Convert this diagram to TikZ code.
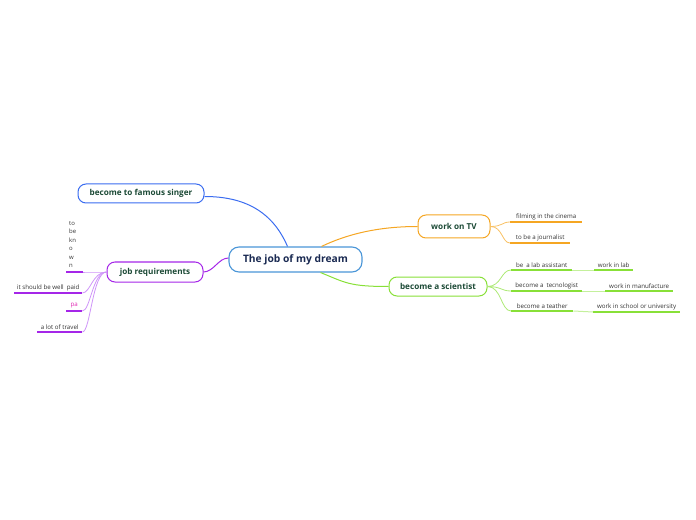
\documentclass[tikz,border=0pt]{standalone}
\usepackage{fontspec}
\setmainfont{Open Sans}
\usetikzlibrary{positioning}
\definecolor{azulC}{HTML}{4A96D8}
\definecolor{azul}{HTML}{3A6CF0}
\definecolor{naranja}{HTML}{F5A623}
\definecolor{verde}{HTML}{88E038}
\definecolor{verdeC}{HTML}{C4F09C}
\definecolor{morado}{HTML}{A526E8}
\definecolor{moradoC}{HTML}{CE94F8}
\definecolor{rosa}{HTML}{E02AB4}
\definecolor{txtNodo}{HTML}{1C4A36}
\definecolor{txtCentral}{HTML}{1A2A52}
\begin{document}
\begin{tikzpicture}[
      x=1bp, y=-1bp,
      central/.style={draw=azulC, line width=1.1bp, rounded corners=10bp, fill=white, minimum width=133bp, minimum height=25bp, font=\fontsize{10.3}{12}\selectfont\bfseries, text=txtCentral},
      tema/.style={draw=#1, line width=1bp, rounded corners=8bp, fill=white, font=\fontsize{8.2}{10}\selectfont\bfseries, text=txtNodo},
      hoja/.style={font=\fontsize{6.2}{7.5}\selectfont, text=black!80, inner sep=0pt, minimum height=10bp, anchor=south west},
      rama/.style={draw=#1, line width=1bp},
      subrama/.style={draw=#1, line width=0.8bp},
      linea/.style={draw=#1, line width=1.3bp}
    ]
    \useasboundingbox (0,0) rectangle (696,520);

    % --- tema central ---
    \node[central] (main) at (295.5,259.5) {The job of my dream};

    % --- ramas principales ---
    \node[tema=azul, minimum width=126bp, minimum height=19bp] (singer) at (141,193.5) {become to famous singer};
    \node[tema=naranja, minimum width=72bp, minimum height=23bp] (tv) at (454,226.5) {work on TV};
    \node[tema=verde, minimum width=98bp, minimum height=19bp] (sci) at (438,286.5) {become a scientist};
    \node[tema=morado, minimum width=96bp, minimum height=20bp] (req) at (155,272) {job requirements};

    \draw[rama=azul] ([xshift=-8bp]main.north) .. controls +(-15,-35) and +(40,0) .. ([yshift=-3bp]singer.east);
    \draw[rama=naranja] ([xshift=26bp]main.north) .. controls +(25,-12) and +(-40,0) .. (tv.west);
    \draw[rama=verde] ([xshift=25bp]main.south) .. controls +(25,10) and +(-40,0) .. (sci.west);
    \draw[rama=morado] ([yshift=1.5bp]main.west) .. controls +(-10,0) and +(10,0) .. (req.east);

    % --- work on TV ---
    \node[hoja, minimum width=72bp] (film) at (510,222) {filming in the cinema};
    \node[hoja, minimum width=60bp] (journ) at (510,243) {to be a journalist};
    \draw[linea=naranja] (film.south west) -- (film.south east);
    \draw[linea=naranja] (journ.south west) -- (journ.south east);
    \draw[subrama=naranja!70] (tv.east) .. controls +(12,0) and +(-8,0) .. (film.south west);
    \draw[subrama=naranja!70] (tv.east) .. controls +(12,0) and +(-8,0) .. (journ.south west);

    % --- become a scientist ---
    \node[hoja, minimum width=61bp] (lab) at (511,270) {be\enspace a lab assistant};
    \node[hoja, minimum width=71bp] (tec) at (511,291) {become a\enspace tecnologist};
    \node[hoja, minimum width=62bp] (tea) at (511,311) {become a teather};
    \node[hoja, minimum width=39bp] (wlab) at (594,270) {work in lab};
    \node[hoja, minimum width=68bp] (wman) at (605,291) {work in manufacture};
    \node[hoja, minimum width=87bp] (wsch) at (593,312) {work in school or university};
    \foreach \n in {lab,tec,tea,wlab,wman,wsch}
      \draw[linea=verde] (\n.south west) -- (\n.south east);
    \foreach \n in {lab,tec,tea}
      \draw[subrama=verde!70] (sci.east) .. controls +(14,0) and +(-10,0) .. (\n.south west);
    \draw[subrama=verdeC, line width=1bp] (lab.south east) -- (wlab.south west);
    \draw[subrama=verdeC, line width=1bp] (tec.south east) -- (wman.south west);
    \draw[subrama=verdeC, line width=1bp] (tea.south east) -- (wsch.south west);

    % --- job requirements ---
    \node[hoja, minimum width=17bp] (known) at (66,272) {};
    \node[font=\fontsize{6}{8.5}\selectfont, text=black!80, align=left, anchor=south west, inner sep=0pt] (knowntxt) at (69,268) {to\\be\\kn\\o\\w\\n};
    \node[hoja, minimum width=68bp] (paid) at (14,293) {it should be well\enspace paid};
    \node[hoja, minimum width=16bp, text=rosa] (pa) at (66,311) {pa};
    \node[hoja, minimum width=45bp] (travel) at (37,332) {a lot of travel};
    \foreach \n in {known,paid,pa,travel}
      \draw[linea=morado] (\n.south west) -- (\n.south east);
    \foreach \n in {known,paid,pa,travel}
      \draw[subrama=moradoC] (req.west) .. controls +(-14,0) and +(8,0) .. (\n.south east);
  \end{tikzpicture}
\end{document}
